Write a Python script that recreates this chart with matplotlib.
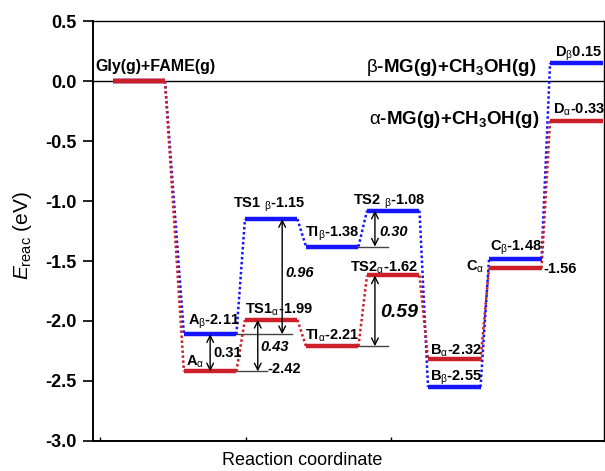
import matplotlib
matplotlib.use("Agg")
import matplotlib.pyplot as plt

plt.rcParams['font.family'] = ['Liberation Sans', 'DejaVu Sans']
plt.rcParams['axes.unicode_minus'] = False
plt.rcParams['mathtext.fontset'] = 'custom'
plt.rcParams['mathtext.rm'] = 'Liberation Sans'
plt.rcParams['mathtext.it'] = 'Liberation Sans:italic'
plt.rcParams['mathtext.bf'] = 'Liberation Sans:bold'

# ---- data ----
states = ['Gly+FAME', 'A', 'TS1', 'TI', 'TS2', 'B', 'C', 'D']
x_pos = [0.75, 1.92, 2.92, 3.92, 4.92, 5.92, 6.92, 7.92]
alpha_E = [0.0, -2.42, -1.99, -2.21, -1.62, -2.32, -1.56, -0.33]
beta_E = [0.0, -2.11, -1.15, -1.38, -1.08, -2.55, -1.48, 0.15]
barriers = {'0.31': 0.31, '0.43': 0.43, '0.96': 0.96, '0.30': 0.30, '0.59': 0.59}
yticks = [0.5, 0.0, -0.5, -1.0, -1.5, -2.0, -2.5, -3.0]

RED = '#cc1f2a'
BLUE = '#1414ff'
W = 0.86

fig = plt.figure(figsize=(6.05, 4.71), dpi=100)
ax = fig.add_axes([0.1537, 0.0637, 0.845, 0.8917])
ax.set_xlim(0, 8.377)
ax.set_ylim(-3.0, 0.5)

ax.axhline(0, color='black', lw=1.0, zorder=1)

def draw_path(E, color, z):
    for i, (x, e) in enumerate(zip(x_pos, E)):
        ax.plot([x - W / 2, x + W / 2], [e, e], color=color, lw=3.2,
                solid_capstyle='butt', zorder=z + 1)
        if i + 1 < len(E):
            ax.plot([x + W / 2, x_pos[i + 1] - W / 2], [e, E[i + 1]],
                    color=color, lw=1.8, ls=(0, (1, 1)), zorder=z)

draw_path(beta_E, BLUE, 3)
draw_path(alpha_E, RED, 3)
ax.plot([x_pos[0] - W / 2, x_pos[0] + W / 2], [0, 0], color=RED, lw=3.2,
        solid_capstyle='butt', zorder=6)

# reference lines
ref = dict(color='#444444', lw=1.0, zorder=2)
ax.plot([2.08, 3.26], [beta_E[1], beta_E[1]], **ref)
ax.plot([1.70, 2.85], [alpha_E[1], alpha_E[1]], **ref)
ax.plot([3.67, 4.84], [beta_E[3], beta_E[3]], **ref)
ax.plot([3.67, 4.84], [alpha_E[3], alpha_E[3]], **ref)

def darrow(x, y1, y2):
    ax.annotate('', xy=(x, y2), xytext=(x, y1),
                arrowprops=dict(arrowstyle='<->', color='black', lw=1.0,
                                shrinkA=0, shrinkB=0, mutation_scale=12),
                zorder=7)

darrow(x_pos[1], beta_E[1], alpha_E[1])
darrow(x_pos[2] - 0.22, alpha_E[2], alpha_E[1])
darrow(x_pos[2] + 0.18, beta_E[2], beta_E[1])
darrow(x_pos[4] - 0.30, beta_E[4], beta_E[3])
darrow(x_pos[4] - 0.30, alpha_E[4], alpha_E[3])

bt = dict(fontweight='bold', fontsize=10.5, va='center', ha='left', zorder=8)
ax.text(1.97, -2.27, '0.31', **bt)
ax.text(2.74, -2.22, '0.43', style='italic', **bt)
ax.text(3.15, -1.60, '0.96', style='italic', **bt)
ax.text(4.70, -1.26, '0.30', style='italic', **bt)
ax.text(4.70, -1.93, '0.59', style='italic', fontweight='bold', fontsize=14,
        va='center', ha='left', zorder=8)

def sub(g):
    return r'$_{\mathrm{' + g + r'}}$'

lt = dict(fontweight='bold', fontsize=10.5, va='center', ha='left', zorder=8)
ax.text(0.04, 0.12, 'Gly(g)+FAME(g)', fontweight='bold', fontsize=11.5,
        va='center', ha='left', zorder=8)
ax.text(1.56, -2.01, 'A' + sub('β') + '-2.11', **lt)
ax.text(1.52, -2.34, 'A' + sub('α'), **lt)
ax.text(2.85, -2.40, '-2.42', **lt)
ax.text(2.30, -1.03, 'TS1 ' + sub('β') + '-1.15', **lt)
ax.text(2.49, -1.91, 'TS1' + sub('α') + '-1.99', **lt)
ax.text(3.48, -1.27, 'TI' + sub('β') + '-1.38', **lt)
ax.text(3.48, -2.12, 'TI' + sub('α') + '-2.21', **lt)
ax.text(4.26, -1.01, 'TS2 ' + sub('β') + '-1.08', **lt)
ax.text(4.21, -1.56, 'TS2' + sub('α') + '-1.62', **lt)
ax.text(5.52, -2.25, 'B' + sub('α') + '-2.32', **lt)
ax.text(5.52, -2.47, 'B' + sub('β') + '-2.55', **lt)
ax.text(6.51, -1.39, 'C' + sub('β') + '-1.48', **lt)
ax.text(6.11, -1.55, 'C' + sub('α'), **lt)
ax.text(7.38, -1.57, '-1.56', **lt)
ax.text(7.57, 0.23, 'D' + sub('β') + '0.15', **lt)
ax.text(7.53, -0.24, 'D' + sub('α') + '-0.33', **lt)

mt = dict(fontweight='bold', fontsize=13.5, va='center', ha='left', zorder=8)
ax.text(4.47, 0.11, r'$\mathrm{β}$-MG(g)+CH$_{\mathbf{3}}$OH(g)', **mt)
ax.text(4.52, -0.32, r'$\mathrm{α}$-MG(g)+CH$_{\mathbf{3}}$OH(g)', **mt)

ax.set_yticks(yticks)
ax.set_yticklabels([f'{v:.1f}' for v in yticks], fontweight='bold', fontsize=13)
ax.set_xticks([0.12, 2.50, 4.88])
ax.set_xticklabels([])
ax.tick_params(axis='x', which='both', direction='in', length=3, width=1)
ax.tick_params(axis='y', direction='out', length=7, width=1.2, pad=5)
for s in ['left', 'bottom']:
    ax.spines[s].set_linewidth(1.4)
for s in ['top', 'right']:
    ax.spines[s].set_linewidth(1.0)

ax.set_xlabel('Reaction coordinate', fontsize=13)
ax.xaxis.set_label_coords(0.409, -0.027)
ax.xaxis.label.set_va('top')
ax.set_ylabel(r'$E_{\mathrm{reac}}$ (eV)', fontsize=15)
ax.yaxis.set_label_coords(-0.115, 0.49)

fig.savefig('out.png', dpi=100)
